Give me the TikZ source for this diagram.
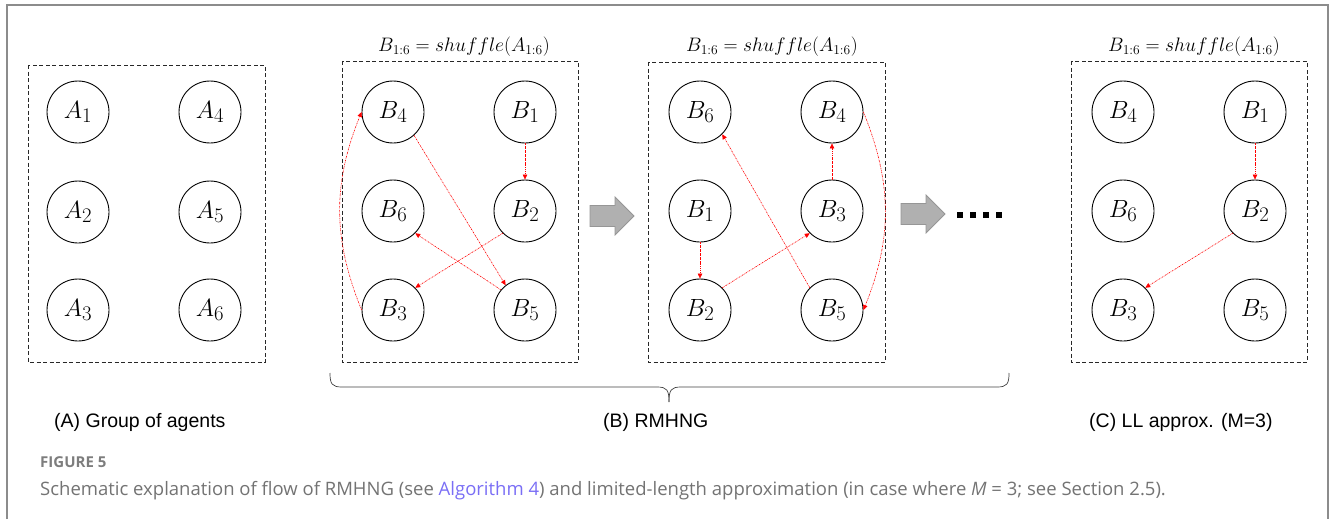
\documentclass[tikz,border=0pt]{standalone}
\usepackage{graphicx}
\usepackage{fontspec}
\newfontfamily\labfont{Liberation Sans}
\newfontfamily\capfont{Open Sans}
\usetikzlibrary{arrows.meta,calc}
\definecolor{framegray}{RGB}{140,140,140}
\definecolor{boxgray}{RGB}{40,40,40}
\definecolor{capgray}{RGB}{115,115,115}
\definecolor{figgray}{RGB}{125,125,125}
\definecolor{linkblue}{RGB}{122,110,245}
\definecolor{arrfill}{RGB}{176,176,176}
\definecolor{arrdraw}{RGB}{150,150,150}
\definecolor{propred}{RGB}{255,0,0}
\newcommand{\ttl}{\scalebox{1.13}{$B_{1:6} = shuffle(A_{1:6})$}}
\tikzset{
  agent/.style={circle, draw=black, line width=0.9pt, minimum size=62pt, inner sep=0pt,
    font=\fontsize{24.88}{25}\selectfont},
  groupbox/.style={draw=boxgray, line width=0.9pt, dash pattern=on 4pt off 2.5pt},
  prop/.style={draw=propred, line width=0.6pt, dash pattern=on 1.6pt off 0.9pt on 0.5pt off 0.9pt,
    -{Triangle[length=5pt,width=4.5pt]}},
  titletext/.style={inner sep=0pt, font=\fontsize{17.28}{18}\selectfont},
  paneltext/.style={inner sep=0pt, anchor=west, font=\labfont\fontsize{19.5}{20}\selectfont},
  captext/.style={inner sep=0pt, anchor=base west, text=capgray, font=\capfont\fontsize{18.5}{20}\selectfont},
  figtext/.style={inner sep=0pt, anchor=base west, text=figgray, font=\capfont\bfseries\fontsize{15}{16}\selectfont},
  bigarrow/.style={fill=arrfill, draw=arrdraw, line width=0.8pt},
  dotsq/.style={fill=black, draw=none, minimum size=6pt, inner sep=0pt, rectangle},
  bracepath/.style={draw=black!75, line width=0.7pt}
}
\begin{document}
\begin{tikzpicture}[x=1pt,y=-1pt]
\useasboundingbox (0,0) rectangle (1332,519);
% outer frame
\draw[framegray, line width=2pt] (7,519) -- (7,5) -- (1328,5) -- (1328,519);

% ---------- Panel A ----------
\draw[groupbox] (28,65) rectangle (265,362);
\node[agent] (a1) at (78,112) {$A_1$};
\node[agent] (a4) at (210,112) {$A_4$};
\node[agent] (a2) at (78,212) {$A_2$};
\node[agent] (a5) at (210,212) {$A_5$};
\node[agent] (a3) at (78,310) {$A_3$};
\node[agent] (a6) at (210,310) {$A_6$};

% ---------- Panel B (first) ----------
\node[titletext] (t1) at (464,47) {\ttl};
\draw[groupbox] (342,61) rectangle (578,362);
\node[agent] (p4) at (393,112) {$B_4$};
\node[agent] (p1) at (525,112) {$B_1$};
\node[agent] (p6) at (393,211) {$B_6$};
\node[agent] (p2) at (525,211) {$B_2$};
\node[agent] (p3) at (393,310) {$B_3$};
\node[agent] (p5) at (525,310) {$B_5$};
\draw[prop] (p1.south) -- (p2.north);
\draw[prop] (p2.225) -- (p3.45);
\draw[prop] (p3.west) to[bend left=22] (p4.west);
\draw[prop] (p4.-48) -- (p5.128);
\draw[prop] (p5.140) -- (p6.-45);

% arrow 1
\draw[bigarrow, shift={(612,216)}] (-22,-10.5) -- (3,-10.5) -- (3,-19) -- (22,0) -- (3,19) -- (3,10.5) -- (-22,10.5) -- cycle;

% ---------- Panel B (second) ----------
\node[titletext] (t2) at (772,47) {\ttl};
\draw[groupbox] (648,62) rectangle (885,362);
\node[agent] (q6) at (700,112) {$B_6$};
\node[agent] (q4) at (832,112) {$B_4$};
\node[agent] (q1) at (700,211) {$B_1$};
\node[agent] (q3) at (832,211) {$B_3$};
\node[agent] (q2) at (700,310) {$B_2$};
\node[agent] (q5) at (832,310) {$B_5$};
\draw[prop] (q1.south) -- (q2.north);
\draw[prop] (q2.45) -- (q3.225);
\draw[prop] (q3.north) -- (q4.south);
\draw[prop] (q4.east) to[bend left=22] (q5.east);
\draw[prop] (q5.135) -- (q6.-45);

% arrow 2 and dots
\draw[bigarrow, shift={(923,214)}] (-22,-10.5) -- (3,-10.5) -- (3,-19) -- (22,0) -- (3,19) -- (3,10.5) -- (-22,10.5) -- cycle;
\node[dotsq] (d1) at (960,215) {};
\node[dotsq] (d2) at (973,215) {};
\node[dotsq] (d3) at (986,215) {};
\node[dotsq] (d4) at (999,215) {};

% ---------- Panel C ----------
\node[titletext] (t3) at (1194,47) {\ttl};
\draw[groupbox] (1071,61) rectangle (1307,362);
\node[agent] (c4) at (1123,112) {$B_4$};
\node[agent] (c1) at (1255,112) {$B_1$};
\node[agent] (c6) at (1123,211) {$B_6$};
\node[agent] (c2) at (1255,211) {$B_2$};
\node[agent] (c3) at (1123,310) {$B_3$};
\node[agent] (c5) at (1255,310) {$B_5$};
\draw[prop] (c1.south) -- (c2.north);
\draw[prop] (c2.225) -- (c3.45);

% ---------- Brace ----------
\coordinate (bl) at (330,373);
\coordinate (br) at (1009,373);
\coordinate (btip) at (669,402);
\draw[bracepath] (bl) .. controls (330,384) and (332,387) .. (342,387) -- (657,387)
  .. controls (667,387) and (669,390) .. (btip);
\draw[bracepath] (btip) .. controls (669,390) and (671,387) .. (681,387) -- (997,387)
  .. controls (1007,387) and (1009,384) .. (br);

% ---------- Labels ----------
\node[paneltext] (la) at (54,422) {(A) Group of agents};
\node[paneltext] (lb) at (603,422) {(B) RMHNG};
\node[paneltext] (lc) at (1089,422) {(C) LL approx. (M=3)};

% ---------- Caption ----------
\node[figtext] (fig) at (40,467) {FIGURE 5};
\node[captext] (cap) at (40,495) {Schematic explanation of flow of RMHNG (see \textcolor{linkblue}{Algorithm 4}) and limited-length approximation (in case where {\itshape M}~=~3; see Section 2.5).};
\end{tikzpicture}
\end{document}
